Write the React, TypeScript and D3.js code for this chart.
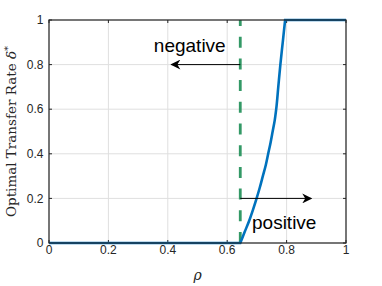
import React from "react";
import * as d3 from "d3";

// rising part of the curve
const rhoValues = [0.644, 0.659, 0.674, 0.687, 0.699, 0.71, 0.72, 0.73, 0.738, 0.746, 0.753, 0.76, 0.765, 0.772, 0.779, 0.787, 0.795];
const deltaValues = [0, 0.05, 0.1, 0.15, 0.2, 0.25, 0.3, 0.35, 0.4, 0.45, 0.5, 0.55, 0.6, 0.7, 0.8, 0.9, 1];
const thresholdRho = 0.644;
const xTicks = [0, 0.2, 0.4, 0.6, 0.8, 1];
const yTicks = [0, 0.2, 0.4, 0.6, 0.8, 1];
const negArrow = { from: 0.644, to: 0.412, y: 0.8, label: "negative", labelX: 0.474, labelY: 0.858 };
const posArrow = { from: 0.644, to: 0.883, y: 0.2, label: "positive", labelX: 0.792, labelY: 0.064 };

const W = 382;
const H = 286;
const margin = { top: 20, right: 36, bottom: 43, left: 49 };

export default function App() {
  const x = d3.scaleLinear().domain([0, 1]).range([margin.left, W - margin.right]);
  const y = d3.scaleLinear().domain([0, 1]).range([H - margin.bottom, margin.top]);
  const pts: [number, number][] = rhoValues.map((r, i) => [r, deltaValues[i]]);
  const line = d3
    .line<[number, number]>()
    .x((d) => x(d[0]))
    .y((d) => y(d[1]))
    .curve(d3.curveMonotoneY);
  // flat at 0 before the threshold, flat at 1 after saturation
  const mid = line(pts) || "M0,0";
  const d = `M${x(0)},${y(0)}L${mid.slice(1)}L${x(1)},${y(1)}`;

  const axisColor = "#262626";
  const tickFont = "'Liberation Sans', Arial, sans-serif";

  return (
    <svg width={W} height={H} style={{ position: "absolute", left: 0, top: 0, background: "#fff" }}>
      <defs>
        <marker id="head" viewBox="0 0 10 10" refX="9" refY="5" markerWidth="14" markerHeight="10" orient="auto" markerUnits="userSpaceOnUse">
          <path d="M0,0 L10,5 L0,10 L3,5 Z" fill="#000" />
        </marker>
      </defs>
      {/* grid */}
      {xTicks.map((t) => (
        <line key={"gx" + t} x1={x(t)} x2={x(t)} y1={y(0)} y2={y(1)} stroke="#dfdfdf" strokeWidth={1} />
      ))}
      {yTicks.map((t) => (
        <line key={"gy" + t} x1={x(0)} x2={x(1)} y1={y(t)} y2={y(t)} stroke="#dfdfdf" strokeWidth={1} />
      ))}
      {/* ticks (inside, all four sides) */}
      {xTicks.map((t) => (
        <g key={"tx" + t}>
          <line x1={x(t)} x2={x(t)} y1={y(0)} y2={y(0) - 3} stroke={axisColor} />
          <line x1={x(t)} x2={x(t)} y1={y(1)} y2={y(1) + 3} stroke={axisColor} />
          <text x={x(t)} y={y(0) + 10.5} textAnchor="middle" fontFamily={tickFont} fontSize={12} fill={axisColor}>
            {String(t)}
          </text>
        </g>
      ))}
      {yTicks.map((t) => (
        <g key={"ty" + t}>
          <line x1={x(0)} x2={x(0) + 3} y1={y(t)} y2={y(t)} stroke={axisColor} />
          <line x1={x(1)} x2={x(1) - 3} y1={y(t)} y2={y(t)} stroke={axisColor} />
          <text x={x(0) - 5.5} y={y(t) + 4.2} textAnchor="end" fontFamily={tickFont} fontSize={12} fill={axisColor}>
            {String(t)}
          </text>
        </g>
      ))}
      {/* threshold */}
      <line x1={x(thresholdRho)} x2={x(thresholdRho)} y1={y(0)} y2={y(1)} stroke="#339966" strokeWidth={2.8} strokeDasharray="11,10.7" />
      {/* curve */}
      <path d={d} fill="none" stroke="#0072bd" strokeWidth={2.6} />
      {/* arrows */}
      {[negArrow, posArrow].map((a) => (
        <g key={a.label}>
          <line x1={x(a.from)} x2={x(a.to)} y1={y(a.y)} y2={y(a.y)} stroke="#000" strokeWidth={1} markerEnd="url(#head)" />
          <text x={x(a.labelX)} y={y(a.labelY)} textAnchor="middle" fontFamily="'Liberation Sans', Arial, sans-serif" fontSize={19} fill="#000">
            {a.label}
          </text>
        </g>
      ))}
      {/* box */}
      <rect x={x(0)} y={y(1)} width={x(1) - x(0)} height={y(0) - y(1)} fill="none" stroke={axisColor} strokeWidth={1.2} />
      {/* axis labels */}
      <text x={x(0.5)} y={280} textAnchor="middle" fontFamily="'DejaVu Serif', serif" fontStyle="italic" fontSize={14} fill={axisColor}>
        ρ
      </text>
      <text transform={`translate(16,${(y(0) + y(1)) / 2}) rotate(-90)`} textAnchor="middle" fontFamily="'DejaVu Serif', serif" fontSize={13.5} fill={axisColor}>
        Optimal Transfer Rate <tspan fontStyle="italic">δ</tspan>
        <tspan dy={-5} fontSize={10}>*</tspan>
      </text>
    </svg>
  );
}
